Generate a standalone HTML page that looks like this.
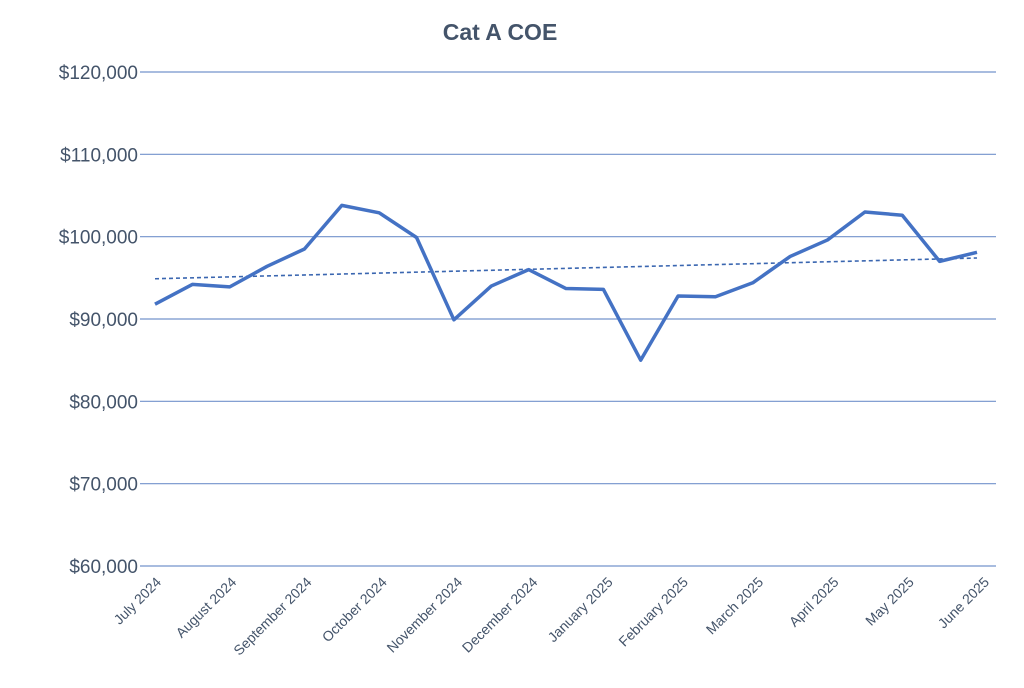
<!DOCTYPE html>
<html><head><meta charset="utf-8"><style>
body{margin:0;background:#fff;}
svg text{font-family:"Liberation Sans",sans-serif;fill:#44546A;}
</style></head><body>
<svg width="1024" height="683">
<text x="500" y="40" text-anchor="middle" font-size="23" font-weight="bold">Cat A COE</text>
<g id="grid"></g><g id="ylab"></g><g id="xlab"></g>
<path id="trend" fill="none" stroke="#3a66b0" stroke-width="1.6" stroke-dasharray="4,3"/>
<path id="line" fill="none" stroke="#4472C4" stroke-width="3.5" stroke-linejoin="round"/>
</svg>
<script>
const values=[91800,94200,93900,96400,98500,103800,102900,99900,89900,94000,96000,93700,93600,85000,92800,92700,94400,97600,99600,103000,102600,97000,98100];
const xLabels=["July 2024","August 2024","September 2024","October 2024","November 2024","December 2024","January 2025","February 2025","March 2025","April 2025","May 2025","June 2025"];
const yTicks=[60000,70000,80000,90000,100000,110000,120000];
const NS="http://www.w3.org/2000/svg";
const y=v=>566-(v-60000)/60000*494;
const x=i=>155+i*(977-155)/(values.length-1);
const g=document.getElementById('grid'),yl=document.getElementById('ylab'),xl=document.getElementById('xlab');
yTicks.forEach(t=>{
 const l=document.createElementNS(NS,'line');
 l.setAttribute('x1',140);l.setAttribute('x2',996);l.setAttribute('y1',y(t));l.setAttribute('y2',y(t));
 l.setAttribute('stroke','#7393cc');l.setAttribute('stroke-width','1.2');
 
 
 g.appendChild(l);
 const tx=document.createElementNS(NS,'text');
 tx.setAttribute('x',138);tx.setAttribute('y',y(t)+7);tx.setAttribute('text-anchor','end');tx.setAttribute('font-size','19');
 tx.textContent='$'+t.toLocaleString('en-US');
 
 
 yl.appendChild(tx);
});
xLabels.forEach((s,i)=>{
 const px=162+i*(990-162)/(xLabels.length-1);
 const tx=document.createElementNS(NS,'text');
 tx.setAttribute('transform',`translate(${px},583) rotate(-45)`);
 tx.setAttribute('text-anchor','end');tx.setAttribute('font-size','14');
 tx.textContent=s;
 
 
 xl.appendChild(tx);
});
document.getElementById('line').setAttribute('d',values.map((v,i)=>(i?'L':'M')+x(i)+','+y(v)).join(''));
const n=values.length;let sx=0,sy=0,sxy=0,sxx=0;
values.forEach((v,i)=>{sx+=i;sy+=v;sxy+=i*v;sxx+=i*i;});
const b=(n*sxy-sx*sy)/(n*sxx-sx*sx),a=(sy-b*sx)/n;
document.getElementById('trend').setAttribute('d',`M${x(0)},${y(a)}L${x(n-1)},${y(a+b*(n-1))}`);
</script>
</body></html>
